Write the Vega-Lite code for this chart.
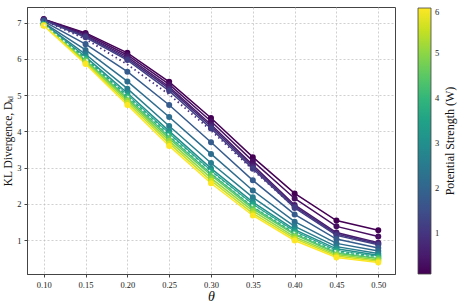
{
  "$schema": "https://vega.github.io/schema/vega-lite/v6.json",
  "width": 368,
  "height": 267,
  "autosize": {"type": "none"},
  "padding": {"left": 27, "top": 7, "right": 63, "bottom": 30},
  "background": "white",
  "config": {
    "view": {"stroke": "#444", "strokeWidth": 1},
    "font": "Liberation Serif",
    "axis": {
      "labelFont": "Liberation Serif", "labelFontSize": 8.5, "labelColor": "#222",
      "titleFont": "Liberation Serif", "titleFontWeight": "normal", "titleColor": "#111",
      "domainColor": "#444", "tickColor": "#444", "tickSize": 3,
      "grid": true, "gridColor": "#bbbbbb", "gridDash": [2, 2], "gridWidth": 0.7
    },
    "legend": {
      "labelFont": "Liberation Serif", "labelFontSize": 8.5, "labelColor": "#222",
      "titleFont": "Liberation Serif", "titleFontWeight": "normal", "titleColor": "#111"
    }
  },
  "datasets": {
    "curves": [
      {"W":0.1,"t":0.10,"v":7.10},{"W":0.1,"t":0.15,"v":6.72},{"W":0.1,"t":0.20,"v":6.17},{"W":0.1,"t":0.25,"v":5.37},{"W":0.1,"t":0.30,"v":4.37},{"W":0.1,"t":0.35,"v":3.29},{"W":0.1,"t":0.40,"v":2.29},{"W":0.1,"t":0.45,"v":1.54},{"W":0.1,"t":0.50,"v":1.27},
      {"W":0.3,"t":0.10,"v":7.09},{"W":0.3,"t":0.15,"v":6.69},{"W":0.3,"t":0.20,"v":6.11},{"W":0.3,"t":0.25,"v":5.30},{"W":0.3,"t":0.30,"v":4.28},{"W":0.3,"t":0.35,"v":3.18},{"W":0.3,"t":0.40,"v":2.15},{"W":0.3,"t":0.45,"v":1.38},{"W":0.3,"t":0.50,"v":1.10},
      {"W":0.5,"t":0.10,"v":7.09},{"W":0.5,"t":0.15,"v":6.65},{"W":0.5,"t":0.20,"v":6.06},{"W":0.5,"t":0.25,"v":5.23},{"W":0.5,"t":0.30,"v":4.19},{"W":0.5,"t":0.35,"v":3.07},{"W":0.5,"t":0.40,"v":1.97},{"W":0.5,"t":0.45,"v":1.21},{"W":0.5,"t":0.50,"v":0.93},
      {"W":0.8,"t":0.10,"v":7.08},{"W":0.8,"t":0.15,"v":6.63},{"W":0.8,"t":0.20,"v":6.01},{"W":0.8,"t":0.25,"v":5.18},{"W":0.8,"t":0.30,"v":4.14},{"W":0.8,"t":0.35,"v":3.02},{"W":0.8,"t":0.40,"v":1.93},{"W":0.8,"t":0.45,"v":1.17},{"W":0.8,"t":0.50,"v":0.90},
      {"W":1.2,"t":0.10,"v":7.07},{"W":1.2,"t":0.15,"v":6.60},{"W":1.2,"t":0.20,"v":5.97},{"W":1.2,"t":0.25,"v":5.12},{"W":1.2,"t":0.30,"v":4.08},{"W":1.2,"t":0.35,"v":2.97},{"W":1.2,"t":0.40,"v":1.89},{"W":1.2,"t":0.45,"v":1.13},{"W":1.2,"t":0.50,"v":0.87},
      {"W":1.8,"t":0.10,"v":7.04},{"W":1.8,"t":0.15,"v":6.41},{"W":1.8,"t":0.20,"v":5.65},{"W":1.8,"t":0.25,"v":4.73},{"W":1.8,"t":0.30,"v":3.70},{"W":1.8,"t":0.35,"v":2.65},{"W":1.8,"t":0.40,"v":1.71},{"W":1.8,"t":0.45,"v":1.03},{"W":1.8,"t":0.50,"v":0.78},
      {"W":2.2,"t":0.10,"v":7.00},{"W":2.2,"t":0.15,"v":6.25},{"W":2.2,"t":0.20,"v":5.38},{"W":2.2,"t":0.25,"v":4.40},{"W":2.2,"t":0.30,"v":3.38},{"W":2.2,"t":0.35,"v":2.37},{"W":2.2,"t":0.40,"v":1.51},{"W":2.2,"t":0.45,"v":0.91},{"W":2.2,"t":0.50,"v":0.70},
      {"W":2.6,"t":0.10,"v":6.98},{"W":2.6,"t":0.15,"v":6.13},{"W":2.6,"t":0.20,"v":5.18},{"W":2.6,"t":0.25,"v":4.15},{"W":2.6,"t":0.30,"v":3.13},{"W":2.6,"t":0.35,"v":2.18},{"W":2.6,"t":0.40,"v":1.38},{"W":2.6,"t":0.45,"v":0.82},{"W":2.6,"t":0.50,"v":0.63},
      {"W":3.0,"t":0.10,"v":6.96},{"W":3.0,"t":0.15,"v":6.06},{"W":3.0,"t":0.20,"v":5.06},{"W":3.0,"t":0.25,"v":4.01},{"W":3.0,"t":0.30,"v":2.98},{"W":3.0,"t":0.35,"v":2.05},{"W":3.0,"t":0.40,"v":1.29},{"W":3.0,"t":0.45,"v":0.76},{"W":3.0,"t":0.50,"v":0.58},
      {"W":3.5,"t":0.10,"v":6.95},{"W":3.5,"t":0.15,"v":6.02},{"W":3.5,"t":0.20,"v":5.00},{"W":3.5,"t":0.25,"v":3.94},{"W":3.5,"t":0.30,"v":2.91},{"W":3.5,"t":0.35,"v":1.99},{"W":3.5,"t":0.40,"v":1.24},{"W":3.5,"t":0.45,"v":0.71},{"W":3.5,"t":0.50,"v":0.55},
      {"W":4.0,"t":0.10,"v":6.95},{"W":4.0,"t":0.15,"v":5.99},{"W":4.0,"t":0.20,"v":4.95},{"W":4.0,"t":0.25,"v":3.87},{"W":4.0,"t":0.30,"v":2.84},{"W":4.0,"t":0.35,"v":1.92},{"W":4.0,"t":0.40,"v":1.19},{"W":4.0,"t":0.45,"v":0.67},{"W":4.0,"t":0.50,"v":0.51},
      {"W":4.5,"t":0.10,"v":6.94},{"W":4.5,"t":0.15,"v":5.96},{"W":4.5,"t":0.20,"v":4.90},{"W":4.5,"t":0.25,"v":3.81},{"W":4.5,"t":0.30,"v":2.79},{"W":4.5,"t":0.35,"v":1.87},{"W":4.5,"t":0.40,"v":1.15},{"W":4.5,"t":0.45,"v":0.64},{"W":4.5,"t":0.50,"v":0.49},
      {"W":5.0,"t":0.10,"v":6.93},{"W":5.0,"t":0.15,"v":5.93},{"W":5.0,"t":0.20,"v":4.85},{"W":5.0,"t":0.25,"v":3.74},{"W":5.0,"t":0.30,"v":2.71},{"W":5.0,"t":0.35,"v":1.81},{"W":5.0,"t":0.40,"v":1.09},{"W":5.0,"t":0.45,"v":0.60},{"W":5.0,"t":0.50,"v":0.45},
      {"W":5.5,"t":0.10,"v":6.93},{"W":5.5,"t":0.15,"v":5.89},{"W":5.5,"t":0.20,"v":4.79},{"W":5.5,"t":0.25,"v":3.67},{"W":5.5,"t":0.30,"v":2.64},{"W":5.5,"t":0.35,"v":1.74},{"W":5.5,"t":0.40,"v":1.04},{"W":5.5,"t":0.45,"v":0.56},{"W":5.5,"t":0.50,"v":0.42},
      {"W":6.0,"t":0.10,"v":6.92},{"W":6.0,"t":0.15,"v":5.86},{"W":6.0,"t":0.20,"v":4.73},{"W":6.0,"t":0.25,"v":3.60},{"W":6.0,"t":0.30,"v":2.57},{"W":6.0,"t":0.35,"v":1.68},{"W":6.0,"t":0.40,"v":0.99},{"W":6.0,"t":0.45,"v":0.52},{"W":6.0,"t":0.50,"v":0.38}
    ],
    "dotted": [
      {"t":0.10,"v":7.07},{"t":0.15,"v":6.55},{"t":0.20,"v":5.85},{"t":0.25,"v":5.02},{"t":0.30,"v":4.03},{"t":0.35,"v":2.94},{"t":0.40,"v":1.91},{"t":0.45,"v":1.17},{"t":0.50,"v":0.91}
    ],
    "dashed": [
      {"t":0.10,"v":6.95},{"t":0.15,"v":6.01},{"t":0.20,"v":4.98},{"t":0.25,"v":3.90},{"t":0.30,"v":2.88},{"t":0.35,"v":1.95},{"t":0.40,"v":1.21},{"t":0.45,"v":0.69},{"t":0.50,"v":0.53}
    ]
  },
  "encoding": {
    "x": {
      "field": "t", "type": "quantitative",
      "scale": {"domain": [0.08, 0.52], "nice": false, "zero": false},
      "axis": {"values": [0.10,0.15,0.20,0.25,0.30,0.35,0.40,0.45,0.50], "format": ".2f", "title": "θ", "titleFontSize": 14, "titleFontStyle": "italic", "titlePadding": 1, "labelPadding": 3}
    }
  },
  "layer": [
    {
      "encoding": {
        "y": {
          "field": "v", "type": "quantitative",
          "scale": {"domain": [0.065, 7.435], "nice": false, "zero": false},
          "axis": {"values": [1,2,3,4,5,6,7], "title": "KL Divergence, Dₖₗ", "titleFontSize": 11.5, "titlePadding": 3, "labelPadding": 3}
        }
      },
      "layer": [
        {
          "data": {"name": "curves"},
          "mark": {"type": "line", "strokeWidth": 1.5},
          "encoding": {
            "color": {
              "field": "W", "type": "quantitative",
              "scale": {"scheme": "viridis", "domain": [0.1, 6]},
              "legend": {
                "type": "gradient",
                "title": null,
                "orient": "none", "legendX": 391, "legendY": 1,
                "gradientLength": 266, "gradientThickness": 13,
                "gradientStrokeColor": "#444", "gradientStrokeWidth": 0.8,
                "values": [1,2,3,4,5,6],
                "labelOffset": 4
              }
            },
            "detail": {"field": "W", "type": "quantitative"}
          }
        },
        {
          "data": {"name": "curves"},
          "mark": {"type": "circle", "filled": false, "opacity": 1, "size": 8, "strokeWidth": 3.2},
          "encoding": {
            "color": {"field": "W", "type": "quantitative", "scale": {"scheme": "viridis", "domain": [0.1, 6]}}
          }
        },
        {
          "data": {"name": "dotted"},
          "mark": {"type": "line", "color": "#4a3384", "strokeWidth": 1.8, "strokeDash": [1.5, 3]},
          "encoding": {}
        },
        {
          "data": {"name": "dashed"},
          "mark": {"type": "line", "color": "#e6f2f0", "strokeWidth": 1.4, "strokeDash": [2, 3]},
          "encoding": {}
        }
      ]
    },
    {
      "data": {"name": "dotted"},
      "mark": {"type": "point", "opacity": 0},
      "encoding": {
        "y": {
          "field": "v", "type": "quantitative",
          "scale": {"domain": [0.065, 7.435], "nice": false, "zero": false},
          "axis": {
            "orient": "right", "title": "Potential Strength (W)", "titleAngle": 270,
            "titleBaseline": "top", "titleFontSize": 12, "titlePadding": 49,
            "labels": false, "ticks": false, "domain": false, "grid": false
          }
        }
      }
    }
  ],
  "resolve": {"scale": {"y": "independent"}}
}
